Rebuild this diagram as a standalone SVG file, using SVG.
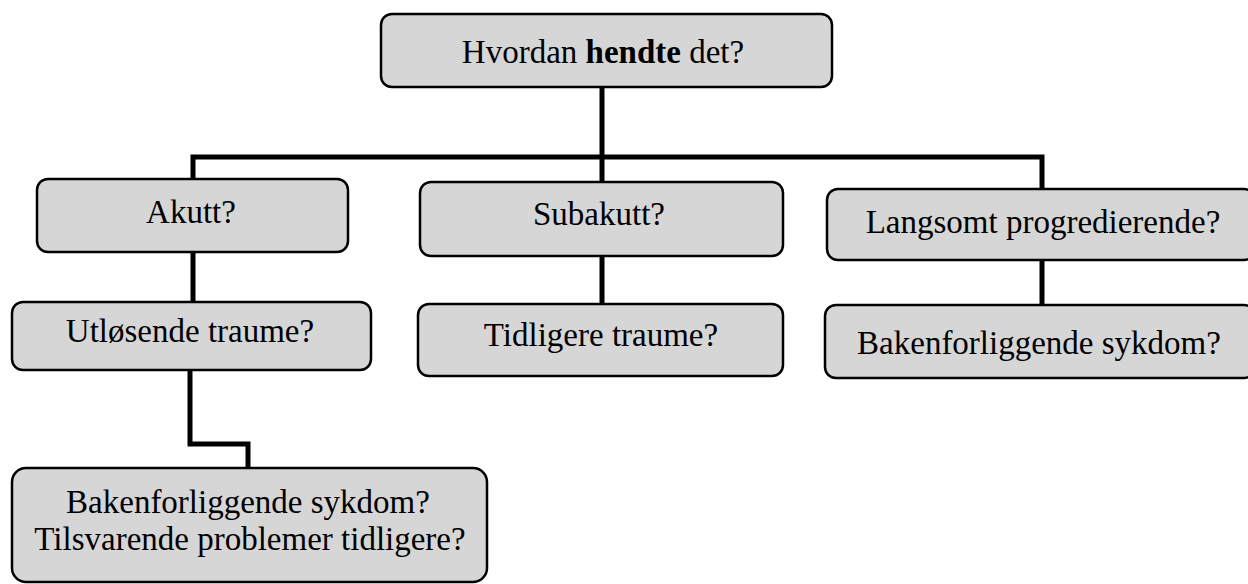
<svg xmlns="http://www.w3.org/2000/svg" width="1248" height="584" viewBox="0 0 1248 584">
<style>
.box{fill:#d6d6d6;stroke:#000;stroke-width:2.5}
.t{font-family:"Liberation Serif","Times New Roman",serif;font-size:33px;fill:#000;text-anchor:middle}
.c{fill:none;stroke:#000;stroke-width:5;stroke-linejoin:miter;stroke-linecap:square}
</style>
<rect width="1248" height="584" fill="#fff"/>
<g id="connectors">
<path class="c" d="M602 87 V182"/>
<path class="c" d="M193 179 V157 H1042 V189"/>
<path class="c" d="M193 252 V302"/>
<path class="c" d="M602 256 V305"/>
<path class="c" d="M1042 260 V305"/>
<path class="c" d="M190 370 V444 H248 V468"/>
</g>
<g id="n-top"><rect class="box" x="381" y="14" width="451" height="73" rx="11"/><text class="t" x="603" y="63">Hvordan <tspan font-weight="bold">hendte</tspan> det?</text></g>
<g id="n-akutt"><rect class="box" x="37" y="179" width="311" height="73" rx="11"/><text class="t" x="191" y="223">Akutt?</text></g>
<g id="n-subakutt"><rect class="box" x="420" y="182" width="363" height="74" rx="11"/><text class="t" x="599" y="225">Subakutt?</text></g>
<g id="n-langsomt"><rect class="box" x="827" y="189" width="428" height="71" rx="11"/><text class="t" x="1043" y="233">Langsomt progredierende?</text></g>
<g id="n-utlosende"><rect class="box" x="12" y="302" width="359" height="68" rx="11"/><text class="t" x="190" y="342">Utløsende traume?</text></g>
<g id="n-tidligere"><rect class="box" x="418" y="304" width="365" height="72" rx="11"/><text class="t" x="601" y="346">Tidligere traume?</text></g>
<g id="n-bakenf"><rect class="box" x="825" y="305" width="430" height="73" rx="11"/><text class="t" x="1039" y="354">Bakenforliggende sykdom?</text></g>
<g id="n-bottom"><rect class="box" x="12" y="468" width="475" height="114" rx="14"/><text class="t" x="248" y="513">Bakenforliggende sykdom?</text><text class="t" x="250" y="550">Tilsvarende problemer tidligere?</text></g>
</svg>
